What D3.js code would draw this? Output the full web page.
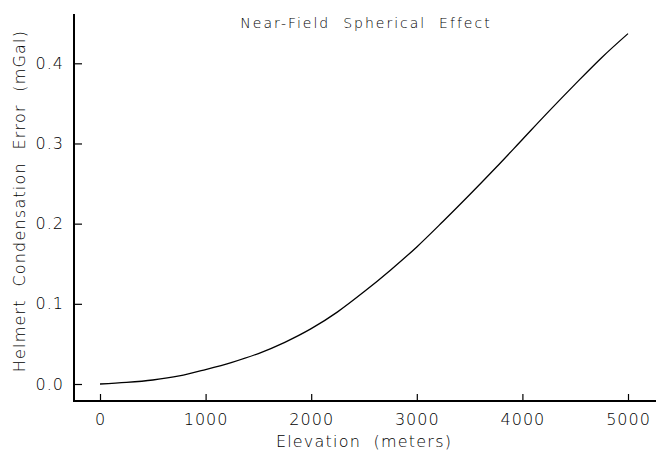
<!DOCTYPE html>
<html>
<head>
<meta charset="utf-8">
<script src="https://cdn.jsdelivr.net/npm/d3@7"></script>
<style>
  body { margin: 0; background: #fff; }
  text { font-family: "DejaVu Sans", sans-serif; font-weight: 200; fill: #000; }
</style>
</head>
<body>
<svg width="656" height="452"></svg>
<script>
// elevation in meters, error in mGal
var elevation = [0, 250, 500, 750, 1000, 1250, 1500, 1750, 2000, 2250, 2500,
                 2750, 3000, 3250, 3500, 3750, 4000, 4250, 4500, 4750, 5000];
var errorMGal = [0.000, 0.002, 0.005, 0.010, 0.018, 0.027, 0.038, 0.052, 0.069, 0.090, 0.115,
                 0.142, 0.171, 0.203, 0.236, 0.270, 0.305, 0.340, 0.374, 0.407, 0.437];
var xTicks = [0, 1000, 2000, 3000, 4000, 5000];
var yTicks = [0.0, 0.1, 0.2, 0.3, 0.4];

var svg = d3.select("svg"),
    width = +svg.attr("width"),
    height = +svg.attr("height");

var x = d3.scaleLinear().domain([0, 5000]).range([100, 628]),
    y = d3.scaleLinear().domain([0, 0.4]).range([384, 63.3]);

var axisX = 74, axisY = 401;

// x axis, ticks pointing inward
var gx = svg.append("g")
    .attr("transform", "translate(0," + axisY + ")")
    .call(d3.axisBottom(x).tickValues(xTicks).tickFormat(d3.format("d"))
      .tickSizeInner(-7).tickSizeOuter(0).tickPadding(13));
gx.select(".domain").remove();
gx.selectAll("line").attr("stroke", "#000").attr("stroke-width", 1.2);
gx.selectAll("text").attr("font-size", 16).attr("letter-spacing", 1);

var gy = svg.append("g")
    .attr("transform", "translate(" + axisX + ",0)")
    .call(d3.axisLeft(y).tickValues(yTicks).tickFormat(d3.format(".1f"))
      .tickSizeInner(-8).tickSizeOuter(0).tickPadding(10));
gy.select(".domain").remove();
gy.selectAll("line").attr("stroke", "#000").attr("stroke-width", 1.2);
gy.selectAll("text").attr("font-size", 16).attr("letter-spacing", 1);

// frame lines
svg.append("line")
    .attr("x1", axisX).attr("x2", width)
    .attr("y1", axisY).attr("y2", axisY)
    .attr("stroke", "#000").attr("stroke-width", 2);
svg.append("line")
    .attr("x1", axisX).attr("x2", axisX)
    .attr("y1", 14).attr("y2", axisY + 1)
    .attr("stroke", "#000").attr("stroke-width", 2);

var line = d3.line()
    .x(function(d, i) { return x(elevation[i]); })
    .y(function(d) { return y(d); })
    .curve(d3.curveMonotoneX);

svg.append("path")
    .datum(errorMGal)
    .attr("fill", "none")
    .attr("stroke", "#000")
    .attr("stroke-width", 1.3)
    .attr("d", line);

svg.append("text")
    .attr("x", 366).attr("y", 28)
    .attr("text-anchor", "middle")
    .attr("font-size", 14)
    .attr("letter-spacing", 2)
    .style("white-space", "pre")
    .text("Near-Field  Spherical  Effect");

svg.append("text")
    .attr("x", 364).attr("y", 447)
    .attr("text-anchor", "middle")
    .attr("font-size", 16)
    .attr("letter-spacing", 1.2)
    .style("white-space", "pre")
    .text("Elevation  (meters)");

svg.append("text")
    .attr("transform", "translate(25,201) rotate(-90)")
    .attr("text-anchor", "middle")
    .attr("font-size", 16)
    .attr("letter-spacing", 1.2)
    .style("white-space", "pre")
    .text("Helmert  Condensation  Error  (mGal)");
</script>
</body>
</html>
